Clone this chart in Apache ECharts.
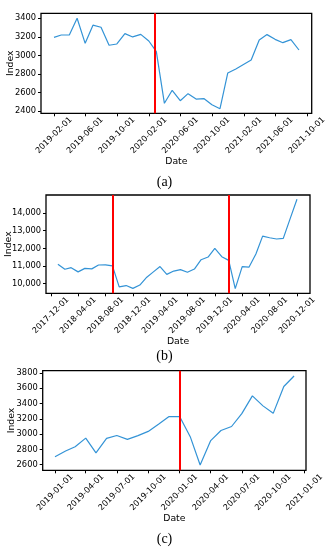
<!DOCTYPE html>
<html>
<head>
<meta charset="utf-8">
<script src="https://cdn.jsdelivr.net/npm/echarts@6/dist/echarts.min.js"></script>
<style>html,body{margin:0;padding:0;background:#fff;}#chart{width:329px;height:550px;}</style>
</head>
<body>
<div id="chart"></div>
<script>
// ---------- data ----------
const datesA = ['2019-02-01','2019-03-01','2019-04-01','2019-05-01','2019-06-01','2019-07-01','2019-08-01','2019-09-01','2019-10-01','2019-11-01','2019-12-01',
  '2020-01-01','2020-02-01','2020-03-01','2020-04-01','2020-05-01','2020-06-01','2020-07-01','2020-08-01','2020-09-01','2020-10-01','2020-11-01','2020-12-01',
  '2021-01-01','2021-02-01','2021-03-01','2021-04-01','2021-05-01','2021-06-01','2021-07-01','2021-08-01','2021-09-01'];
const valuesA = [3195,3220,3220,3400,3130,3326,3303,3109,3123,3235,3199,3227,3155,3040,2483,2623,2511,2587,2529,2533,2468,2425,2810,2853,2904,2950,3166,3224,3173,3137,3170,3058];
const xTicksA = ['2019-02-01','2019-06-01','2019-10-01','2020-02-01','2020-06-01','2020-10-01','2021-02-01','2021-06-01','2021-10-01'];
const yTicksA = [2400,2600,2800,3000,3200,3400];
const breaksA = ['2020-02-24'];

const datesB = ['2018-01-01','2018-02-01','2018-03-01','2018-04-01','2018-05-01','2018-06-01','2018-07-01','2018-08-01','2018-09-01','2018-10-01','2018-11-01','2018-12-01',
  '2019-01-01','2019-02-01','2019-03-01','2019-04-01','2019-05-01','2019-06-01','2019-07-01','2019-08-01','2019-09-01','2019-10-01','2019-11-01','2019-12-01',
  '2020-01-01','2020-02-01','2020-03-01','2020-04-01','2020-05-01','2020-06-01','2020-07-01','2020-08-01','2020-09-01','2020-10-01','2020-11-01','2020-12-01'];
const valuesB = [11100,10820,10906,10670,10868,10840,11057,11065,11010,9820,9895,9738,9925,10370,10655,10970,10528,10715,10800,10650,10830,11358,11509,12000,11528,11320,9720,10970,10935,11680,12690,12600,12530,12563,13698,14775];
const xTicksB = ['2017-12-01','2018-04-01','2018-08-01','2018-12-01','2019-04-01','2019-08-01','2019-12-01','2020-04-01','2020-08-01','2020-12-01'];
const yTicksB = [10000,11000,12000,13000,14000];
const breaksB = ['2018-09-04','2020-02-01'];

const datesC = ['2019-01-01','2019-02-01','2019-03-01','2019-04-01','2019-05-01','2019-06-01','2019-07-01','2019-08-01','2019-09-01','2019-10-01','2019-11-01','2019-12-01',
  '2020-01-01','2020-02-01','2020-03-01','2020-04-01','2020-05-01','2020-06-01','2020-07-01','2020-08-01','2020-09-01','2020-10-01','2020-11-01','2020-12-01'];
const valuesC = [2705,2779,2836,2948,2755,2945,2982,2932,2980,3036,3133,3230,3230,2967,2596,2916,3047,3100,3268,3501,3370,3272,3623,3761];
const xTicksC = ['2019-01-01','2019-04-01','2019-07-01','2019-10-01','2020-01-01','2020-04-01','2020-07-01','2020-10-01','2021-01-01'];
const yTicksC = [2600,2800,3000,3200,3400,3600,3800];
const breaksC = ['2020-01-01'];

const panelLabels = ['(a)','(b)','(c)'];

// ---------- helpers ----------
const ts = s => Date.parse(s + 'T00:00:00Z');
const fmtDate = v => { const d = new Date(v); const p = n => String(n).padStart(2,'0');
  return d.getUTCFullYear() + '-' + p(d.getUTCMonth()+1) + '-' + p(d.getUTCDate()); };
const fmtComma = v => String(v).replace(/\B(?=(\d{3})+(?!\d))/g, ',');
const FONT = 'DejaVu Sans';
const LINE = '#3393d6';

const panels = [
  {dates: datesA, values: valuesA, xt: xTicksA, yt: yTicksA, br: breaksA,
   grid: {left: 41, top: 13.3, width: 270.7, height: 100}, xmin: '2018-12-13', xmax: '2021-10-20',
   ymin: 2375, ymax: 3454, yfmt: v => String(v), nameGap: 25.5, label: {y: 183}},
  {dates: datesB, values: valuesB, xt: xTicksB, yt: yTicksB, br: breaksB,
   grid: {left: 46, top: 195, width: 264, height: 98.3}, xmin: '2017-11-09', xmax: '2021-01-28',
   ymin: 9457, ymax: 15019, yfmt: fmtComma, nameGap: 33, label: {y: 357}},
  {dates: datesC, values: valuesC, xt: xTicksC, yt: yTicksC, br: breaksC,
   grid: {left: 42.7, top: 370.7, width: 263.3, height: 99.6}, xmin: '2018-11-26', xmax: '2021-01-05',
   ymin: 2527, ymax: 3830, yfmt: v => String(v), nameGap: 26.4, label: {y: 540}}
];

const option = {
  backgroundColor: '#fff',
  animation: false,
  grid: [], xAxis: [], yAxis: [], series: [], graphic: []
};

panels.forEach((p, i) => {
  option.grid.push(Object.assign({show: true, borderColor: '#000', borderWidth: 1.3, backgroundColor: 'transparent',
    containLabel: false, outerBoundsMode: 'none'}, p.grid));
  option.xAxis.push({
    type: 'value', gridIndex: i, min: ts(p.xmin), max: ts(p.xmax),
    splitLine: {show: false}, axisLine: {show: false},
    axisTick: {show: true, length: 3, inside: false, customValues: p.xt.map(ts), lineStyle: {color: '#000', width: 1}},
    axisLabel: {customValues: p.xt.map(ts), formatter: fmtDate, rotate: 45, align: 'center', verticalAlign: 'middle',
      margin: 22, fontSize: 8.2, fontFamily: FONT, color: '#000', hideOverlap: false},
    name: 'Date', nameLocation: 'middle', nameGap: 44, nameMoveOverlap: false,
    nameTextStyle: {fontSize: 9.3, fontFamily: FONT, color: '#000'}
  });
  option.yAxis.push({
    type: 'value', gridIndex: i, min: p.ymin, max: p.ymax,
    splitLine: {show: false}, axisLine: {show: false},
    axisTick: {show: true, length: 3, inside: false, customValues: p.yt, lineStyle: {color: '#000', width: 1}},
    axisLabel: {customValues: p.yt, formatter: p.yfmt, margin: 5, fontSize: 8.3, fontFamily: FONT, color: '#000'},
    name: 'Index', nameLocation: 'middle', nameRotate: 90, nameGap: p.nameGap, nameMoveOverlap: false,
    nameTextStyle: {fontSize: 9.3, fontFamily: FONT, color: '#000'}
  });
  option.series.push({
    type: 'line', xAxisIndex: i, yAxisIndex: i,
    data: p.dates.map((d, k) => [ts(d), p.values[k]]),
    showSymbol: false, symbol: 'none', lineStyle: {color: LINE, width: 1.2}, silent: true,
    markLine: {silent: true, symbol: 'none', label: {show: false},
      lineStyle: {color: '#ff0000', width: 2, type: 'solid'},
      data: p.br.map(b => ({xAxis: ts(b)}))}
  });
  option.graphic.push({
    type: 'text', left: 'center', top: p.label.y - 8,
    style: {text: panelLabels[i], fontSize: 14, fontFamily: 'Liberation Serif', fill: '#000'}
  });
});

const chart = echarts.init(document.getElementById('chart'), null, {renderer: 'canvas'});
chart.setOption(option);
</script>
</body>
</html>
